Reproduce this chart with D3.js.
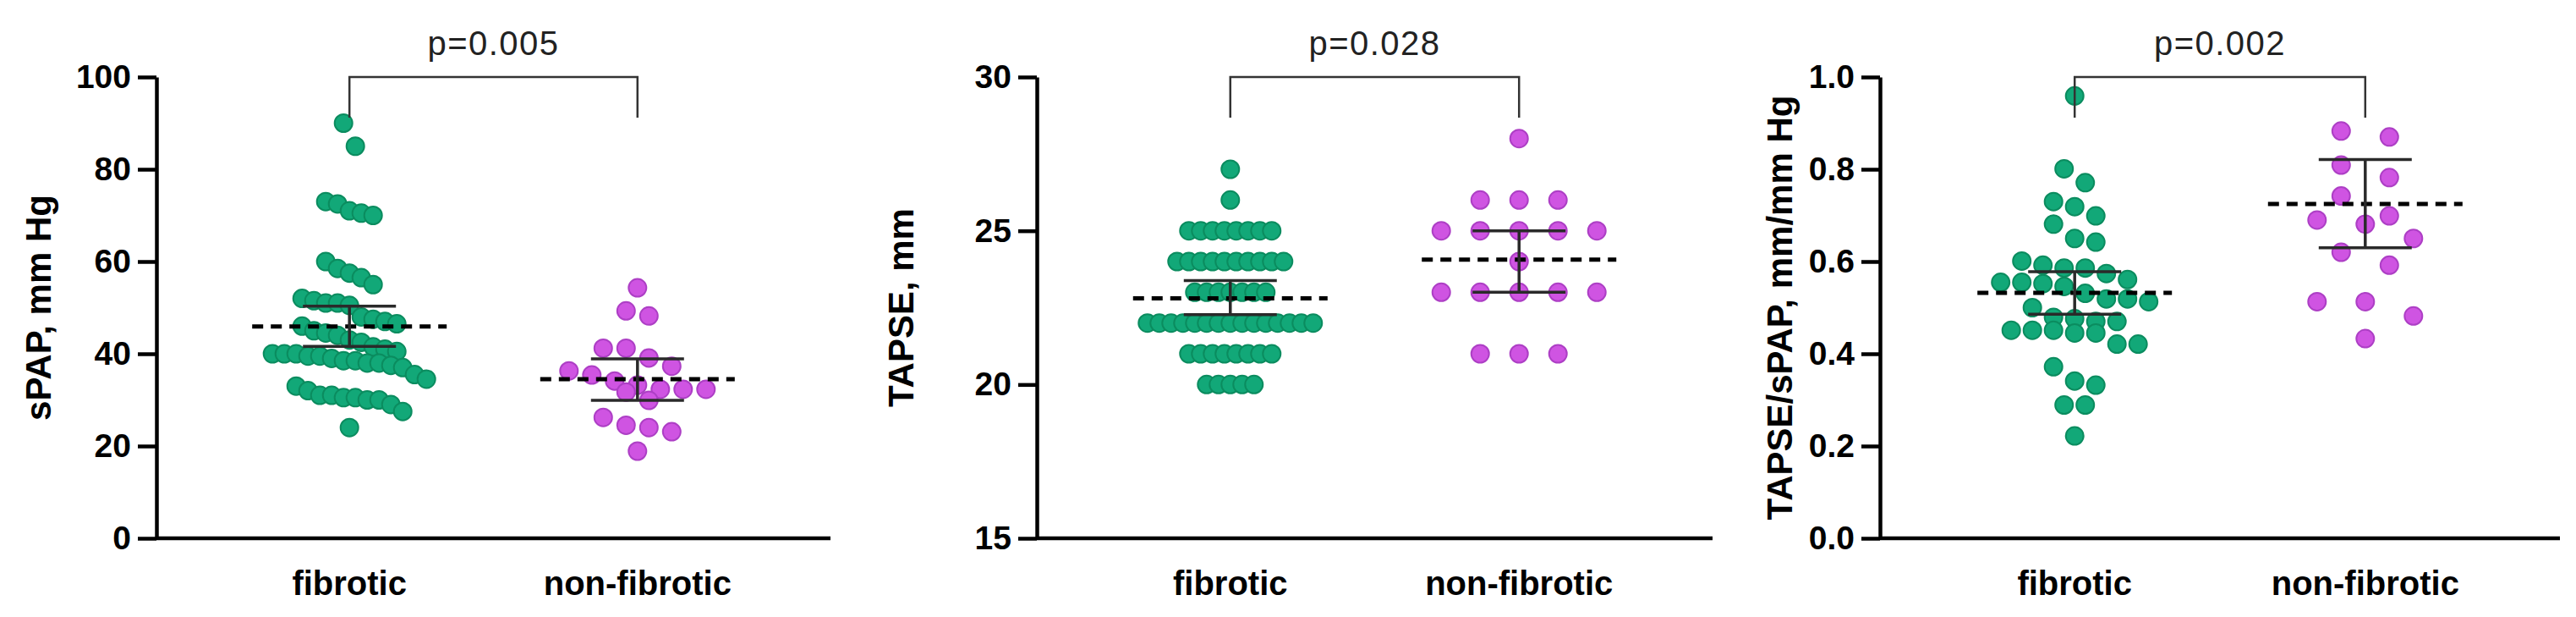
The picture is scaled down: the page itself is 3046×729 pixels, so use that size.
<!DOCTYPE html>
<html><head><meta charset="utf-8">
<script src="https://cdn.jsdelivr.net/npm/d3@7"></script>
<style>
body{margin:0;background:#fff}
svg{display:block}
text{font-family:"Liberation Sans",Arial,Helvetica,sans-serif}
</style>
</head><body>
<svg id="chart" width="3046" height="729"></svg>
<script>
// ---------------- DATA ----------------
const groups = ["fibrotic", "non-fibrotic"];
const yTitles = ["sPAP, mm Hg", "TAPSE, mm", "TAPSE/sPAP, mm/mm Hg"];
const pLabels = ["p=0.005", "p=0.028", "p=0.002"];
const yDomains = [[0, 100], [15, 30], [0, 1]];
const yTicks = [[0, 20, 40, 60, 80, 100], [15, 20, 25, 30], [0, 0.2, 0.4, 0.6, 0.8, 1.0]];
const yTickFormats = ["d", "d", ".1f"];

const sPAP_fibrotic = [90, 85, 73, 72.5, 71, 70, 70.5, 60, 58.5, 57.5, 56.5, 55,
  52, 51.5, 51, 51, 50.5, 48, 47.5, 47, 46.5, 46, 45, 44.5, 44,
  43, 42.5, 41.5, 41, 40.5, 40, 40, 39.5, 39, 38.5, 38, 38, 40, 39.5, 38.5, 37.5,
  37, 35.5, 34.5, 33, 32, 31, 31, 30.5, 30.5, 30, 30, 29, 27.5, 24];
const sPAP_nonfibrotic = [54.3, 49.3, 48.2, 41.2, 41.2, 39.1, 37.3, 36.3, 35.4, 34.1, 33.2,
  32.3, 32.3, 32.3, 31.7, 29.9, 26.2, 24.5, 24.0, 23.1, 18.9];

const TAPSE_fibrotic = [27, 26,
  25, 25, 25, 25, 25, 25, 25, 25,
  24, 24, 24, 24, 24, 24, 24, 24, 24, 24,
  23, 23, 23, 23, 23, 23, 23,
  22, 22, 22, 22, 22, 22, 22, 22, 22, 22, 22, 22, 22, 22, 22,
  21, 21, 21, 21, 21, 21, 21, 21,
  20, 20, 20, 20, 20];
const TAPSE_nonfibrotic = [28, 26, 26, 26, 25, 25, 25, 25, 25, 24,
  23, 23, 23, 23, 23, 21, 21, 21];

const ratio_fibrotic = [0.959, 0.801, 0.771, 0.730, 0.719, 0.699, 0.681, 0.650, 0.642, 0.601,
  0.592, 0.586, 0.586, 0.574, 0.561, 0.555, 0.555, 0.552, 0.546, 0.531,
  0.519, 0.519, 0.513, 0.500, 0.479, 0.476, 0.470, 0.470, 0.451, 0.451,
  0.451, 0.445, 0.445, 0.421, 0.421, 0.372, 0.341, 0.332, 0.289, 0.289, 0.222];
const ratio_nonfibrotic = [0.883, 0.870, 0.809, 0.782, 0.742, 0.699, 0.690, 0.681, 0.650,
  0.620, 0.592, 0.513, 0.513, 0.482, 0.433];

// summary statistics (mean, 95% CI): [fibrotic, non-fibrotic]
const sPAP_mean = [45.9, 34.5], sPAP_ciLow = [41.6, 29.9], sPAP_ciHigh = [50.3, 38.9];
const TAPSE_mean = [22.8, 24.06], TAPSE_ciLow = [22.27, 23.0], TAPSE_ciHigh = [23.38, 25.0];
const ratio_mean = [0.532, 0.725], ratio_ciLow = [0.486, 0.630], ratio_ciHigh = [0.578, 0.821];

// ---------------- LAYOUT / STYLE ----------------
const panels = [
  {values: [sPAP_fibrotic, sPAP_nonfibrotic], mean: sPAP_mean, lo: sPAP_ciLow, hi: sPAP_ciHigh},
  {values: [TAPSE_fibrotic, TAPSE_nonfibrotic], mean: TAPSE_mean, lo: TAPSE_ciLow, hi: TAPSE_ciHigh},
  {values: [ratio_fibrotic, ratio_nonfibrotic], mean: ratio_mean, lo: ratio_ciLow, hi: ratio_ciHigh}
];
const layout = [
  {x0: 185, w: 797, titleOff: 125, spacing: [14, 27], bin: [30, 25]},
  {x0: 1226, w: 799, titleOff: 146, spacing: [14, 46], bin: [10, 10]},
  {x0: 2223, w: 804, titleOff: 104, spacing: [25, 57], bin: [25, 27]}
];
const TOP = 91, BOTTOM = 636;
const fills = ["#12a878", "#cf54e2"];
const strokes = ["#0b8c5f", "#ad3fc5"];
const R = 10.5;

const svg = d3.select("#chart");

function swarm(vals, y, spacing, binPx) {
  const pts = vals.map(v => ({v, py: y(v)})).sort((a, b) => a.py - b.py);
  const bins = [];
  let cur = null;
  for (const p of pts) {
    if (!cur || p.py - cur.start > binPx) { cur = {start: p.py, items: []}; bins.push(cur); }
    cur.items.push(p);
  }
  for (const b of bins) {
    const n = b.items.length;
    b.items.forEach((p, i) => p.dx = (i - (n - 1) / 2) * spacing);
  }
  return pts;
}

panels.forEach((P, k) => {
  const L = layout[k];
  const g = svg.append("g").attr("transform", `translate(${L.x0},0)`);
  const y = d3.scaleLinear().domain(yDomains[k]).range([BOTTOM, TOP]);
  const x = d3.scalePoint().domain(groups).range([0, L.w]).padding(0.67);

  // x axis line
  g.append("line").attr("x1", 0).attr("x2", L.w).attr("y1", BOTTOM).attr("y2", BOTTOM)
    .attr("stroke", "#000").attr("stroke-width", 4.5);

  // y axis
  const ya = g.append("g").call(d3.axisLeft(y).tickValues(yTicks[k])
      .tickFormat(d3.format(yTickFormats[k])).tickSize(22).tickPadding(8).tickSizeOuter(0));
  ya.select(".domain").attr("stroke", "#000").attr("stroke-width", 4.5);
  ya.selectAll(".tick line").attr("stroke", "#000").attr("stroke-width", 4.5);
  ya.selectAll(".tick text").attr("font-size", 39).attr("font-weight", "bold").attr("fill", "#000")
    .attr("font-family", '"Liberation Sans",Arial,sans-serif');

  // y title
  g.append("text").attr("transform", `translate(${-L.titleOff},${(TOP + BOTTOM) / 2}) rotate(-90)`)
    .attr("text-anchor", "middle").attr("font-size", 42).attr("font-weight", "bold")
    .text(yTitles[k]);

  // category labels
  g.selectAll(".cat").data(groups).enter().append("text")
    .attr("x", d => x(d)).attr("y", 703).attr("text-anchor", "middle")
    .attr("font-size", 40).attr("font-weight", "bold").text(d => d);

  // points
  groups.forEach((grp, gi) => {
    const pts = swarm(P.values[gi], y, L.spacing[gi], L.bin[gi]);
    g.append("g").selectAll("circle").data(pts).enter().append("circle")
      .attr("cx", d => x(grp) + d.dx).attr("cy", d => d.py).attr("r", R)
      .attr("fill", fills[gi]).attr("stroke", strokes[gi]).attr("stroke-width", 2);
  });

  // mean dashed lines + CI error bars
  groups.forEach((grp, gi) => {
    const cx = x(grp);
    g.append("line").attr("x1", cx - 115).attr("x2", cx + 115)
      .attr("y1", y(P.mean[gi])).attr("y2", y(P.mean[gi]))
      .attr("stroke", "#000").attr("stroke-width", 5).attr("stroke-dasharray", "13,9");
    const eb = g.append("g").attr("stroke", "#2a2a2a").attr("stroke-width", 3.5);
    eb.append("line").attr("x1", cx).attr("x2", cx).attr("y1", y(P.lo[gi])).attr("y2", y(P.hi[gi]));
    [P.lo[gi], P.hi[gi]].forEach(v => eb.append("line")
      .attr("x1", cx - 55).attr("x2", cx + 55).attr("y1", y(v)).attr("y2", y(v)));
  });

  // significance bracket
  const x1 = x(groups[0]), x2 = x(groups[1]);
  g.append("path").attr("d", `M${x1},139 V${TOP} H${x2} V139`)
    .attr("fill", "none").attr("stroke", "#333").attr("stroke-width", 2.5);
  g.append("text").attr("x", (x1 + x2) / 2).attr("y", 65).attr("text-anchor", "middle")
    .attr("font-size", 40).attr("letter-spacing", 1.5).attr("fill", "#222").text(pLabels[k]);
});
</script>
</body></html>
